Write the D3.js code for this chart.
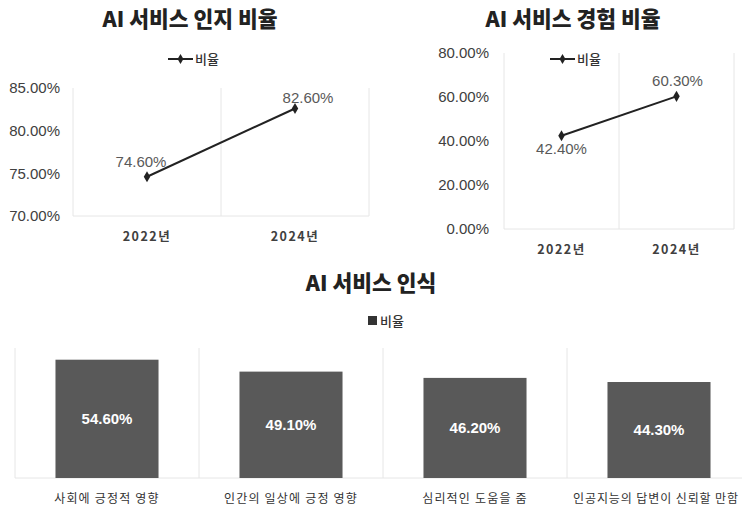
<!DOCTYPE html>
<html>
<head>
<meta charset="utf-8">
<script src="https://cdn.jsdelivr.net/npm/d3@7"></script>
<style>
  html, body { margin: 0; padding: 0; background: #fff; }
  svg { display: block; font-family: "Liberation Sans", "Noto Sans CJK KR", sans-serif; }
</style>
</head>
<body>
<svg id="chart" width="742" height="506"></svg>
<script>
  // data
  var years = ['2022년', '2024년'];
  var awareness = [74.6, 82.6];
  var experience = [42.4, 60.3];
  var awarenessTicks = [70, 75, 80, 85];
  var experienceTicks = [0, 20, 40, 60, 80];
  var perceptionCats = ['사회에 긍정적 영향', '인간의 일상에 긍정 영향', '심리적인 도움을 줌', '인공지능의 답변이 신뢰할 만함'];
  var perception = [54.6, 49.1, 46.2, 44.3];

  var KR = '"Noto Sans CJK KR", "Liberation Sans", sans-serif';
  var GRID = '#e6e6e6';
  var DARK = '#595959';
  var fmt = function (v) { return v.toFixed(2) + '%'; };

  var svg = d3.select('#chart');

  function title(x, y, txt) {
    svg.append('text').attr('x', x).attr('y', y).attr('text-anchor', 'middle')
      .attr('font-family', KR).attr('font-weight', 900).attr('font-size', 21.5).attr('fill', '#222')
      .text(txt);
  }

  function lineChart(opt) {
    var x = d3.scaleBand().domain(years).range([opt.left, opt.right]);
    var y = d3.scaleLinear().domain(opt.domain).range([opt.bottom, opt.top]);

    var g = svg.append('g');

    title(opt.titleX, 27, opt.title);

    // legend
    var lg = g.append('g').attr('transform', 'translate(' + opt.legendX + ',59)');
    lg.append('line').attr('x1', 0).attr('x2', 25).attr('y1', 0).attr('y2', 0)
      .attr('stroke', '#222').attr('stroke-width', 2);
    lg.append('path').attr('d', d3.symbol(d3.symbolDiamond, 30)).attr('transform', 'translate(12.5,0)').attr('fill', '#222');
    lg.append('text').attr('x', 27).attr('y', 5).attr('font-family', KR).attr('font-size', 13)
      .attr('font-weight', 500).attr('fill', '#333').text('비율');

    // frame: left line, category separators, bottom
    var seps = [opt.left].concat(years.map(function (d) { return x(d) + x.bandwidth(); }));
    g.selectAll('.sep').data(seps).enter().append('line')
      .attr('x1', function (d) { return d; }).attr('x2', function (d) { return d; })
      .attr('y1', opt.top).attr('y2', opt.bottom).attr('stroke', GRID).attr('stroke-width', 1);
    g.append('line').attr('x1', opt.left).attr('x2', opt.right).attr('y1', opt.bottom).attr('y2', opt.bottom)
      .attr('stroke', GRID);

    // y axis
    var ya = g.append('g').attr('transform', 'translate(' + opt.left + ',0)')
      .call(d3.axisLeft(y).tickValues(opt.ticks).tickFormat(fmt).tickSize(0).tickPadding(opt.left - opt.tickEnd));
    ya.select('.domain').remove();
    ya.selectAll('text').attr('font-size', 15).attr('fill', '#404040').attr('font-family', '"Liberation Sans", sans-serif');

    // x labels
    g.selectAll('.xl').data(years).enter().append('text')
      .attr('x', function (d) { return x(d) + x.bandwidth() / 2; })
      .attr('y', opt.bottom + 25).attr('text-anchor', 'middle')
      .attr('font-family', KR).attr('font-weight', 'bold').attr('font-size', 12.5)
      .attr('letter-spacing', 1.5).attr('fill', '#404040')
      .text(function (d) { return d; });

    // line
    var line = d3.line().x(function (d, i) { return x(years[i]) + x.bandwidth() / 2; }).y(function (d) { return y(d); });
    g.append('path').datum(opt.values).attr('d', line).attr('fill', 'none').attr('stroke', '#222').attr('stroke-width', 2);
    g.selectAll('.pt').data(opt.values).enter().append('path')
      .attr('d', d3.symbol(d3.symbolDiamond, 36))
      .attr('transform', function (d, i) { return 'translate(' + (x(years[i]) + x.bandwidth() / 2) + ',' + y(d) + ')'; })
      .attr('fill', '#222');

    // data labels
    g.selectAll('.dl').data(opt.values).enter().append('text')
      .attr('x', function (d, i) { return x(years[i]) + x.bandwidth() / 2 + opt.labelDx[i]; })
      .attr('y', function (d, i) { return y(d) + opt.labelDy[i]; })
      .attr('text-anchor', 'middle').attr('font-size', 15).attr('fill', '#595959')
      .attr('font-family', '"Liberation Sans", sans-serif')
      .text(function (d) { return fmt(d); });
  }

  lineChart({
    title: 'AI 서비스 인지 비율', titleX: 190, legendX: 168,
    left: 73, right: 369, top: 88, bottom: 216, tickEnd: 60,
    domain: [70, 85], ticks: awarenessTicks, values: awareness,
    labelDx: [-6, 13], labelDy: [-10, -5]
  });

  lineChart({
    title: 'AI 서비스 경험 비율', titleX: 573, legendX: 550,
    left: 504, right: 734, top: 53, bottom: 229, tickEnd: 489,
    domain: [0, 80], ticks: experienceTicks, values: experience,
    labelDx: [0, 1], labelDy: [18, -10]
  });

  // bar chart
  var bx = d3.scaleBand().domain(perceptionCats).range([15, 751]);
  var by = d3.scaleLinear().domain([0, 60]).range([478, 348]);
  var barW = bx.bandwidth() * 0.56;
  var bg = svg.append('g');

  title(371, 291, 'AI 서비스 인식');

  bg.append('rect').attr('x', 368).attr('y', 316).attr('width', 9).attr('height', 9).attr('fill', '#333');
  bg.append('text').attr('x', 380).attr('y', 326).attr('font-family', KR).attr('font-size', 13)
    .attr('font-weight', 500).attr('fill', '#333').text('비율');

  var bseps = [15].concat(perceptionCats.map(function (d) { return bx(d) + bx.bandwidth(); }));
  bg.selectAll('.bsep').data(bseps).enter().append('line')
    .attr('x1', function (d) { return d; }).attr('x2', function (d) { return d; })
    .attr('y1', 348).attr('y2', 478).attr('stroke', GRID);
  bg.append('line').attr('x1', 15).attr('x2', 742).attr('y1', 478).attr('y2', 478).attr('stroke', GRID);

  bg.selectAll('.bar').data(perception).enter().append('rect')
    .attr('x', function (d, i) { return bx(perceptionCats[i]) + (bx.bandwidth() - barW) / 2; })
    .attr('y', function (d) { return by(d); })
    .attr('width', barW)
    .attr('height', function (d) { return by(0) - by(d); })
    .attr('fill', DARK);

  bg.selectAll('.bl').data(perception).enter().append('text')
    .attr('x', function (d, i) { return bx(perceptionCats[i]) + bx.bandwidth() / 2; })
    .attr('y', function (d) { return (by(d) + by(0)) / 2 + 5; })
    .attr('text-anchor', 'middle').attr('font-weight', 'bold').attr('font-size', 15)
    .attr('fill', '#fff').attr('font-family', '"Liberation Sans", sans-serif')
    .text(function (d) { return fmt(d); });

  bg.selectAll('.bc').data(perceptionCats).enter().append('text')
    .attr('x', function (d, i) { return bx(d) + bx.bandwidth() / 2 - (i === 3 ? 3 : 0); })
    .attr('y', 503).attr('text-anchor', 'middle')
    .attr('font-family', KR).attr('font-size', 12).attr('fill', '#333')
    .attr('letter-spacing', function (d, i) { return i === 3 ? 0.9 : 1.2; })
    .text(function (d) { return d; });
</script>
</body>
</html>
